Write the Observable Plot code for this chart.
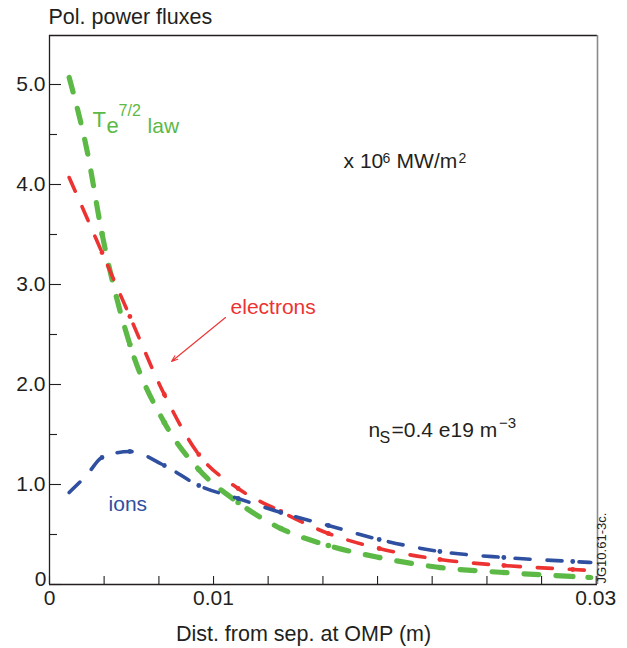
<!DOCTYPE html>
<html><head><meta charset="utf-8">
<script src="https://cdn.jsdelivr.net/npm/d3@7"></script>
<script src="https://cdn.jsdelivr.net/npm/@observablehq/plot@0.6"></script>
<style>body{margin:0;background:#fff;}</style>
</head><body><div id="chart"></div>
<script>
// Distance from separatrix at OMP (m)
const distances = [0.0012, 0.0023, 0.0032, 0.0049, 0.0070, 0.0091, 0.0115, 0.0141, 0.0170, 0.0201, 0.0238, 0.0277, 0.0319, 0.0330];
// Poloidal power fluxes (x 10^6 MW/m^2)
const ions      = [0.92, 1.10, 1.27, 1.33, 1.19, 0.99, 0.86, 0.72, 0.59, 0.45, 0.33, 0.27, 0.23, 0.22];
const electrons = [4.07, 3.66, 3.32, 2.68, 1.90, 1.30, 0.96, 0.73, 0.51, 0.36, 0.25, 0.19, 0.15, 0.14];
const te72law   = [5.07, 4.33, 3.51, 2.40, 1.62, 1.15, 0.82, 0.56, 0.39, 0.27, 0.17, 0.12, 0.08, 0.07];

const yTickValues = [0, 1, 2, 3, 4, 5];
const yTickLabels = ["0", "1.0", "2.0", "3.0", "4.0", "5.0"];
const yMinorTicks = [0.5, 1.5, 2.5, 3.5, 4.5];
const xTickValues = [0, 0.01, 0.0333];
const xTickLabels = ["0", "0.01", "0.03"];
const xMinorTicks = [0, 0.00333, 0.00667, 0.01, 0.01333, 0.01667, 0.02, 0.02333, 0.02667, 0.03, 0.03333];

const titleText = "Pol. power fluxes";
const xLabelText = "Dist. from sep. at OMP (m)";
const stampText = "JG10.61-3c.";

const GREEN = "#5cb946", RED = "#ec3332", BLUE = "#2f4fa0", INK = "#231f20";

const series = [
  {key: "te", values: te72law, color: GREEN, width: 5.2, r: 2.8},
  {key: "el", values: electrons, color: RED, width: 3.6, r: 2.4},
  {key: "io", values: ions, color: BLUE, width: 3.6, r: 2.4}
];

const xMax = 0.03341, yMax = 5.49;

const annotations = [
  {t: "T", x: 0.00262, y: 4.58, size: 22, color: GREEN},
  {t: "e", x: 0.00348, y: 4.52, size: 22, color: GREEN},
  {t: "7/2", x: 0.00421, y: 4.69, size: 16, color: GREEN},
  {t: "law", x: 0.00598, y: 4.52, size: 21, color: GREEN},
  {t: "electrons", x: 0.01104, y: 2.71, size: 21, color: RED},
  {t: "ions", x: 0.00360, y: 0.74, size: 21, color: BLUE},
  {t: "x 10", x: 0.01793, y: 4.17, size: 21, color: INK},
  {t: "6", x: 0.02030, y: 4.22, size: 14, color: INK},
  {t: "MW/m", x: 0.02116, y: 4.17, size: 21, color: INK},
  {t: "2", x: 0.02494, y: 4.22, size: 14, color: INK},
  {t: "n", x: 0.01945, y: 1.48, size: 21, color: INK},
  {t: "S", x: 0.02012, y: 1.42, size: 16, color: INK},
  {t: "=0.4 e19 m", x: 0.02085, y: 1.48, size: 21, color: INK},
  {t: "\u22123", x: 0.02740, y: 1.57, size: 15, color: INK}
];
const arrows = [{x1: 0.01073, y1: 2.67, x2: 0.00744, y2: 2.23}];

const marks = [];
// lines & dots
for (const s of series) {
  const rows = distances.map((d, i) => ({x: d, y: s.values[i], i}));
  marks.push(Plot.line(rows, {x: "x", y: "y", stroke: s.color, strokeWidth: s.width,
    strokeDasharray: "15,17", curve: "monotone-x"}));
  marks.push(Plot.dot(rows.filter(r => r.i >= 2 && r.i < rows.length - 1),
    {x: "x", y: "y", r: s.r, fill: s.color}));
}
// frame
marks.push(Plot.ruleX([0], {stroke: INK, strokeWidth: 1.3}));
marks.push(Plot.ruleY([0], {stroke: INK, strokeWidth: 1.3}));
marks.push(Plot.ruleY([yMax], {stroke: INK, strokeWidth: 1.3}));
marks.push(Plot.ruleX([xMax], {stroke: "#8a8a8a", strokeWidth: 1.6}));
// ticks (inside)
marks.push(Plot.tickY(yTickValues, {insetRight: 548 - 12, stroke: INK, strokeWidth: 1.1}));
marks.push(Plot.tickY(yMinorTicks, {insetRight: 548 - 8, stroke: INK, strokeWidth: 1.1}));
marks.push(Plot.tickX(xMinorTicks, {insetTop: 549 - 8, stroke: INK, strokeWidth: 1.1}));
// axes labels
const yFmt = d => yTickLabels[yTickValues.indexOf(d)];
marks.push(Plot.axisY({ticks: yTickValues.slice(1), tickSize: 0, tickPadding: 4, label: null, fontSize: 21,
  tickFormat: yFmt}));
marks.push(Plot.axisY({ticks: yTickValues.slice(0, 1), tickSize: 0, tickPadding: 3, label: null, fontSize: 21,
  dy: -5, tickFormat: yFmt}));
marks.push(Plot.axisX({ticks: xTickValues, tickSize: 0, tickPadding: 6, label: null, fontSize: 21,
  tickFormat: d => xTickLabels[xTickValues.indexOf(d)]}));
// annotations
marks.push(Plot.arrow(arrows, {x1: "x1", y1: "y1", x2: "x2", y2: "y2", stroke: RED, strokeWidth: 1.1,
  headLength: 9, headAngle: 40}));
for (const a of annotations) {
  marks.push(Plot.text([a], {x: "x", y: "y", text: "t", fill: a.color, fontSize: a.size,
    textAnchor: "start", lineAnchor: "bottom"}));
}
marks.push(Plot.text([titleText], {text: d => d, frameAnchor: "top-left", dx: -1, dy: -12,
  lineAnchor: "bottom", textAnchor: "start", fontSize: 21.5, fill: INK}));
marks.push(Plot.text([xLabelText], {text: d => d, frameAnchor: "bottom", dx: -20, dy: 56,
  lineAnchor: "bottom", fontSize: 21.5, fill: INK}));
marks.push(Plot.text([stampText], {text: d => d, frameAnchor: "bottom-right", dx: 8, dy: -1,
  rotate: -90, textAnchor: "start", fontSize: 13, fill: INK}));

const chart = Plot.plot({
  width: 627, height: 648,
  marginLeft: 49, marginRight: 30, marginTop: 35, marginBottom: 64,
  x: {domain: [0, xMax]},
  y: {domain: [0, yMax]},
  style: {fontFamily: "'Liberation Sans', Arial, sans-serif", background: "white", color: INK},
  marks
});
document.getElementById("chart").appendChild(chart);
</script>
</body></html>
